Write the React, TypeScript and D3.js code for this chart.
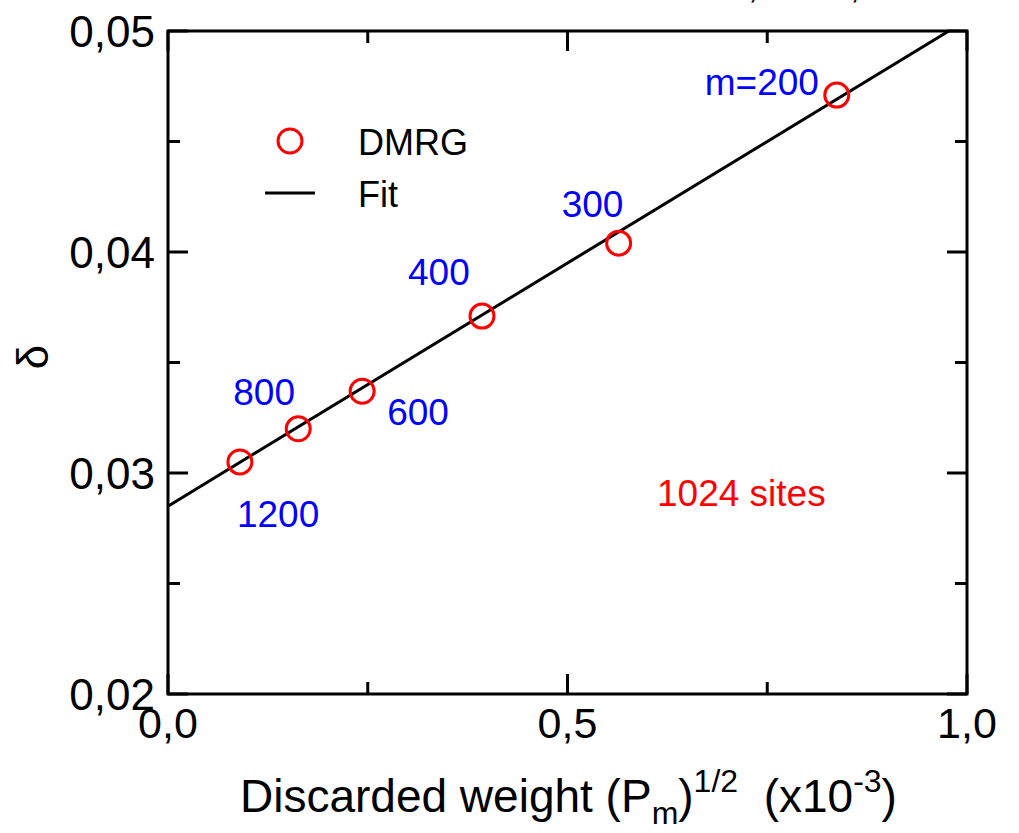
import { line, scaleLinear } from "d3"

// DMRG data: sqrt of discarded weight (x10^-3) vs delta
const mValues = ["1200", "800", "600", "400", "300", "m=200"]
const weightX = [0.090, 0.163, 0.243, 0.393, 0.564, 0.837]
const deltaY = [0.0305, 0.0320, 0.0337, 0.0371, 0.0404, 0.0471]

// linear fit
const fitIntercept = 0.0285
const fitSlope = 0.0220

const xMajor = [0, 0.5, 1]
const xMinor = [0.25, 0.75]
const yMajor = [0.02, 0.03, 0.04, 0.05]
const yMinor = [0.025, 0.035, 0.045]

// label offsets in px relative to each marker (layout only)
const labelOffsets = [[-3, 52], [-65, -37], [25, 21], [-74, -44], [-57, -39], [-132, -13]]

const W = 1019
const H = 833
const left = 168
const right = 967
const top = 31
const bottom = 694

const font = "'Liberation Sans', Arial, Helvetica, sans-serif"

const comma = (s: string) => s.replace(".", ",")

const App = () => {
    const x = scaleLinear().domain([0, 1]).range([left, right])
    const y = scaleLinear().domain([0.02, 0.05]).range([bottom, top])

    const xEnd = (0.05 - fitIntercept) / fitSlope
    const fitPts: [number, number][] = [[0, fitIntercept], [Math.min(1, xEnd), fitIntercept + fitSlope * Math.min(1, xEnd)]]
    const fitPath = line<[number, number]>().x(d => x(d[0])).y(d => y(d[1]))(fitPts)

    const major = 20
    const minor = 12

    return (
        <svg width={W} height={H} style={{ position: "absolute", left: 0, top: 0, background: "#fff" }} fontFamily={font}>
            {/* cut-off text at the very top */}
            <text x={748} y={-2} fontSize={36}>,</text>
            <text x={850} y={-2} fontSize={36}>,</text>

            <g stroke="#000" strokeWidth={3}>
                {xMajor.map(v => <g key={"xM" + v}>
                    <line x1={x(v)} x2={x(v)} y1={bottom} y2={bottom - major} />
                    <line x1={x(v)} x2={x(v)} y1={top} y2={top + major} />
                </g>)}
                {xMinor.map(v => <g key={"xm" + v}>
                    <line x1={x(v)} x2={x(v)} y1={bottom} y2={bottom - minor} />
                    <line x1={x(v)} x2={x(v)} y1={top} y2={top + minor} />
                </g>)}
                {yMajor.map(v => <g key={"yM" + v}>
                    <line x1={left} x2={left + major} y1={y(v)} y2={y(v)} />
                    <line x1={right} x2={right - major} y1={y(v)} y2={y(v)} />
                </g>)}
                {yMinor.map(v => <g key={"ym" + v}>
                    <line x1={left} x2={left + minor} y1={y(v)} y2={y(v)} />
                    <line x1={right} x2={right - minor} y1={y(v)} y2={y(v)} />
                </g>)}
            </g>

            <defs>
                <clipPath id="plot">
                    <rect x={left} y={top} width={right - left} height={bottom - top} />
                </clipPath>
            </defs>
            <path d={fitPath ?? ""} stroke="#000" strokeWidth={3} fill="none" clipPath="url(#plot)" />

            {weightX.map((v, i) => (
                <circle key={"p" + i} cx={x(v)} cy={y(deltaY[i])} r={12} fill="none" stroke="#ff0000" strokeWidth={3} />
            ))}

            {mValues.map((m, i) => (
                <text key={"l" + i} x={x(weightX[i]) + labelOffsets[i][0]} y={y(deltaY[i]) + labelOffsets[i][1] + 13}
                    fontSize={37} fill="#0000ff">{m}</text>
            ))}

            <text x={657} y={506} fontSize={37} fill="#ff0000">1024 sites</text>

            {/* legend */}
            <circle cx={290} cy={141} r={12} fill="none" stroke="#ff0000" strokeWidth={3} />
            <text x={358} y={155} fontSize={36}>DMRG</text>
            <line x1={265} x2={315} y1={193} y2={193} stroke="#000" strokeWidth={3} />
            <text x={358} y={207} fontSize={36}>Fit</text>

            <rect x={left} y={top} width={right - left} height={bottom - top} fill="none" stroke="#000" strokeWidth={3} />

            {yMajor.map(v => (
                <text key={"yt" + v} x={155} y={y(v)} fontSize={44} textAnchor="end" dominantBaseline="central">{comma(v.toFixed(2))}</text>
            ))}
            {xMajor.map(v => (
                <text key={"xt" + v} x={x(v)} y={738} fontSize={43} textAnchor="middle">{comma(v.toFixed(1))}</text>
            ))}

            <text x={240} y={812} fontSize={46}>
                Discarded weight (P<tspan fontSize={32} dy={12}>m</tspan><tspan dy={-12}>)</tspan>
                <tspan fontSize={32} dy={-20}>1/2</tspan>
                <tspan dy={20}>{"\u00a0 (x10"}</tspan>
                <tspan fontSize={32} dy={-20}>-3</tspan>
                <tspan dy={20}>)</tspan>
            </text>

            <text transform="translate(48,357) rotate(-90)" fontSize={44} textAnchor="middle">δ</text>
        </svg>
    )
}

export default App
